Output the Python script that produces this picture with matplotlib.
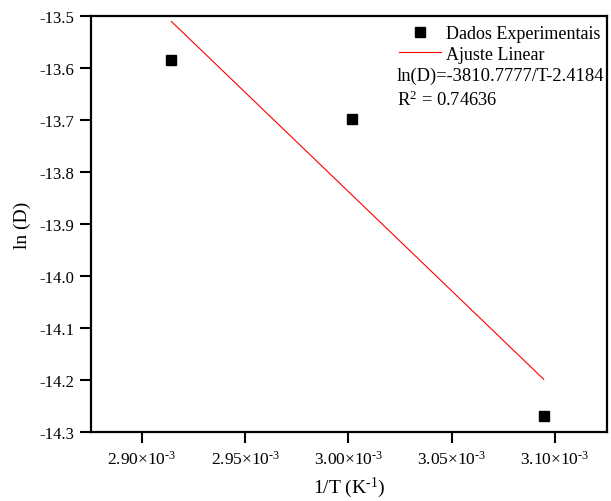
import matplotlib.pyplot as plt
from matplotlib.ticker import FixedLocator, FuncFormatter
import numpy as np

plt.rcParams['font.family'] = ['Liberation Serif', 'DejaVu Serif']
plt.rcParams['mathtext.fontset'] = 'custom'
plt.rcParams['mathtext.rm'] = 'Liberation Serif'
plt.rcParams['mathtext.it'] = 'Liberation Serif:italic'

# 1/T (K^-1) and ln(D)
inv_T = [1 / 343.15, 1 / 333.15, 1 / 323.15]
ln_D = [-13.585, -13.699, -14.269]

# linear fit coefficients as printed on the figure
slope_txt = -3810.7777
intercept_txt = -2.4184
r2 = 0.74636

x_ticks = [2.90e-3, 2.95e-3, 3.00e-3, 3.05e-3, 3.10e-3]
y_ticks = [-13.5, -13.6, -13.7, -13.8, -13.9, -14.0, -14.1, -14.2, -14.3]

fig = plt.figure(figsize=(6.11, 5.02), dpi=100)
ax = fig.add_axes([91 / 611, 69 / 502, 516 / 611, 416 / 502])

ax.plot(inv_T, ln_D, 's', color='black', markersize=7, label='Dados Experimentais')
coef = np.polyfit(inv_T, ln_D, 1)
xf = np.array([inv_T[0], inv_T[-1]])
ax.plot(xf, np.polyval(coef, xf), '-', color='red', linewidth=0.8, label='Ajuste Linear')

ax.set_xlim(2.8753e-3, 3.1252e-3)
ax.set_ylim(-14.3, -13.5)
ax.xaxis.set_major_locator(FixedLocator(x_ticks))
ax.yaxis.set_major_locator(FixedLocator(y_ticks))
ax.xaxis.set_major_formatter(FuncFormatter(lambda v, p: r'%.2f$\times$10$^{\text{-}3}$' % (v * 1e3)))
ax.yaxis.set_major_formatter(FuncFormatter(lambda v, p: '%.1f' % v))
ax.tick_params(direction='out', length=8, width=1.5, labelsize=12, top=False, right=False)
ax.tick_params(axis='x', pad=5, labelsize=12.5)
ax.tick_params(axis='y', pad=4)
for s in ax.spines.values():
    s.set_linewidth(1.6)

ax.set_xlabel(r'1/T (K$^{\text{-}1}$)', fontsize=14, labelpad=5)
ax.set_ylabel('ln (D)', fontsize=14, labelpad=6)

leg = ax.legend(loc='upper left', bbox_to_anchor=(0.58, 1.0), frameon=False, fontsize=13,
                handlelength=2.3, handletextpad=0.3, borderaxespad=0.1, labelspacing=0.2)
ax.text(0.593, 0.879, 'ln(D)=%.4f/T%.4f' % (slope_txt, intercept_txt), transform=ax.transAxes,
        fontsize=13.3, va='top')
ax.text(0.593, 0.822, r'R$^2$ = %.5f' % r2, transform=ax.transAxes, fontsize=13.3, va='top')

fig.savefig('out.png', dpi=100)
